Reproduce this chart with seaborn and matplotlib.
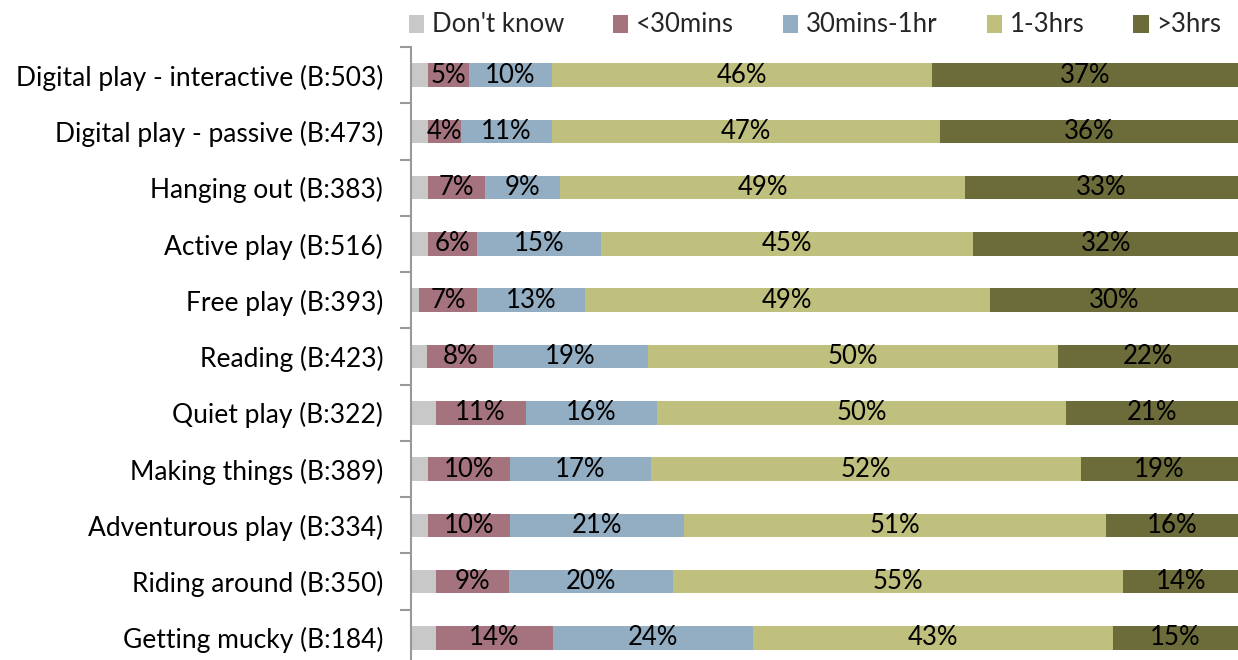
import matplotlib
matplotlib.use("Agg")
import matplotlib.pyplot as plt
import seaborn as sns
import numpy as np
import pandas as pd
from matplotlib.patches import Patch
from matplotlib.ticker import FixedLocator

categories = ["Digital play - interactive (B:503)", "Digital play - passive (B:473)",
              "Hanging out (B:383)", "Active play (B:516)", "Free play (B:393)",
              "Reading (B:423)", "Quiet play (B:322)", "Making things (B:389)",
              "Adventurous play (B:334)", "Riding around (B:350)", "Getting mucky (B:184)"]
series = ["Don't know", "<30mins", "30mins-1hr", "1-3hrs", ">3hrs"]
dont_know = [2, 2, 2, 2, 1, 2, 3, 2, 2, 3, 3]
under30 = [5, 4, 7, 6, 7, 8, 11, 10, 10, 9, 14]
mins30_1hr = [10, 11, 9, 15, 13, 19, 16, 17, 21, 20, 24]
hrs1_3 = [46, 47, 49, 45, 49, 50, 50, 52, 51, 55, 43]
over3 = [37, 36, 33, 32, 30, 22, 21, 19, 16, 14, 15]
colors = ["#C8C8C8", "#A5737E", "#93AEC2", "#BFC07E", "#6B6C3A"]

sns.set_theme(style="white")
plt.rcParams['font.family'] = ['Lato', 'DejaVu Sans']

vals = np.array([dont_know, under30, mins30_1hr, hrs1_3, over3], dtype=float)
# 100% stacked bar: normalise each row to its total
shares = vals / vals.sum(axis=0) * 100
cum = np.cumsum(shares, axis=0)

fig = plt.figure(figsize=(12.38, 6.6), dpi=100)
ax = fig.add_axes([411/1238, -6/660, 1 - 411/1238, 619/660])

for i in range(len(series) - 1, -1, -1):
    df = pd.DataFrame({"cat": categories, "val": cum[i]})
    sns.barplot(data=df, y="cat", x="val", orient="h", color=colors[i],
                saturation=1, width=0.42, ax=ax, order=categories, linewidth=0)

for i in range(1, len(series)):
    for j in range(len(categories)):
        center = cum[i][j] - shares[i][j] / 2
        ax.text(center, j, f"{int(vals[i][j])}%", ha="center", va="center",
                fontsize=18.5, color="black")

ax.set_xlim(0, 100)
ax.set_ylim(len(categories) - 0.5, -0.5)
ax.set_xlabel("")
ax.set_ylabel("")
ax.set_xticks([])
for s in ["top", "right", "bottom"]:
    ax.spines[s].set_visible(False)
ax.spines["left"].set_color("#999999")
ax.spines["left"].set_linewidth(1.5)
ax.tick_params(axis="y", which="major", length=0, labelsize=19, pad=20, labelcolor="black")
ax.yaxis.set_minor_locator(FixedLocator(np.arange(-0.5, len(categories), 1)))
ax.tick_params(axis="y", which="minor", length=8, width=1.5, color="#999999", left=True)

handles = [Patch(facecolor=c, edgecolor="none") for c in colors]
fig.legend(handles, series, loc="center", bbox_to_anchor=(815/1238, 1 - 25/660),
           ncol=5, frameon=False, fontsize=18.5, handlelength=0.6, handleheight=0.7,
           handletextpad=0.3, columnspacing=1.9)

fig.savefig("out.png", dpi=100)
